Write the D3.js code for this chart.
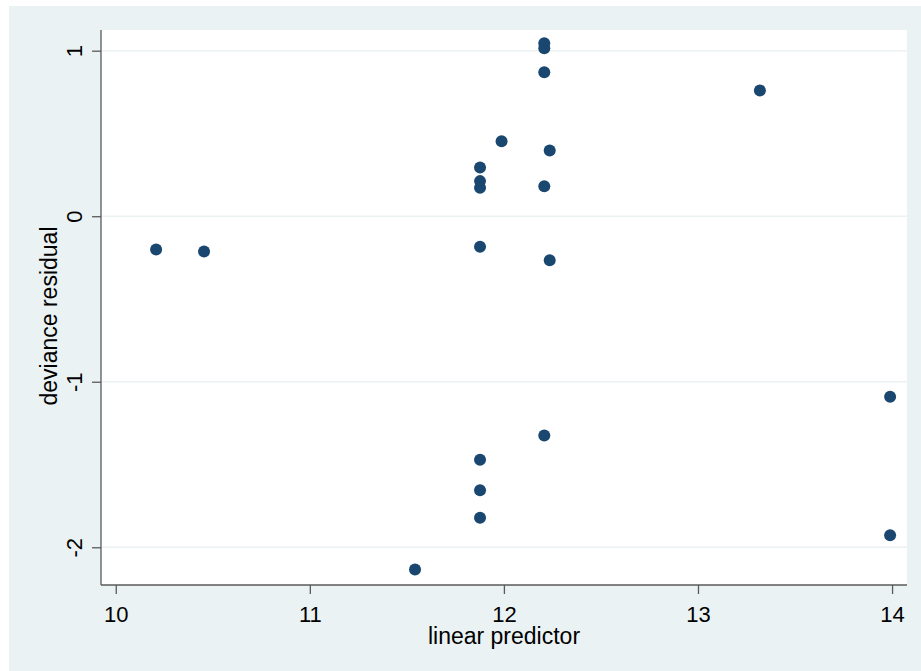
<!DOCTYPE html>
<html>
<head>
<meta charset="utf-8">
<script src="https://cdn.jsdelivr.net/npm/d3@7"></script>
<style>
  html, body { margin: 0; padding: 0; background: #ffffff; }
  svg { display: block; font-family: "Liberation Sans", Arial, sans-serif; }
</style>
</head>
<body>
<svg id="chart" width="921" height="671"></svg>
<script>
// Data
const linearPredictor = [10.208, 10.455, 11.542, 11.877, 11.877, 11.877, 11.877, 11.877, 11.877, 11.877,
                         11.988, 12.208, 12.208, 12.208, 12.208, 12.236, 12.236, 12.208, 13.319, 13.990, 13.990];
const devianceResidual = [-0.201, -0.213, -2.135, 0.294, 0.212, 0.172, -0.185, -1.472, -1.656, -1.822,
                          0.453, 1.045, 1.015, 0.870, 0.181, 0.397, -0.266, -1.325, 0.760, -1.091, -1.927];
const xTicks = [10, 11, 12, 13, 14];
const yTicks = [-2, -1, 0, 1];
const xTitle = "linear predictor";
const yTitle = "deviance residual";

const svg = d3.select("#chart");
const W = 921, H = 671;
const plot = { left: 101, right: 907, top: 30, bottom: 585 };

// outer background
svg.append("rect").attr("x", 9).attr("y", 6).attr("width", W - 9).attr("height", H - 6)
  .attr("fill", "#eaf2f3");

const x = d3.scaleLinear().domain([9.924, 14.077]).range([plot.left, plot.right]);
const y = d3.scaleLinear().domain([-2.228, 1.125]).range([plot.bottom, plot.top]);

// plot region
svg.append("rect").attr("x", plot.left).attr("y", plot.top)
  .attr("width", plot.right - plot.left).attr("height", plot.bottom - plot.top)
  .attr("fill", "#ffffff");

// gridlines
svg.append("g").selectAll("line").data(yTicks).join("line")
  .attr("x1", plot.left).attr("x2", plot.right)
  .attr("y1", d => y(d)).attr("y2", d => y(d))
  .attr("stroke", "#eaf2f3").attr("stroke-width", 1.5);

const fmt = d => String(d);

// x axis
const xAxis = d3.axisBottom(x).tickValues(xTicks).tickFormat(fmt)
  .tickSize(9).tickSizeOuter(0).tickPadding(12);
const gx = svg.append("g").attr("transform", `translate(0,${plot.bottom})`).call(xAxis);
gx.select(".domain").attr("stroke", "#5a5a5a").attr("stroke-width", 1.3)
  .attr("d", `M${plot.left},0H${plot.right}`);
gx.selectAll(".tick line").attr("stroke", "#5a5a5a").attr("stroke-width", 1.3);
gx.selectAll(".tick text").attr("font-size", 22).attr("fill", "#000")
  .attr("font-family", "Liberation Sans, Arial, sans-serif");

// y axis
const yAxis = d3.axisLeft(y).tickValues(yTicks).tickFormat(fmt)
  .tickSize(9).tickSizeOuter(0);
const gy = svg.append("g").attr("transform", `translate(${plot.left},0)`).call(yAxis);
gy.select(".domain").attr("stroke", "#5a5a5a").attr("stroke-width", 1.3)
  .attr("d", `M0,${plot.top}V${plot.bottom}`);
gy.selectAll(".tick line").attr("stroke", "#5a5a5a").attr("stroke-width", 1.3);
gy.selectAll(".tick text")
  .attr("x", null).attr("dy", null)
  .attr("text-anchor", "middle")
  .attr("transform", "translate(-19,0) rotate(-90)")
  .attr("font-size", 22).attr("fill", "#000")
  .attr("font-family", "Liberation Sans, Arial, sans-serif");

// axis titles
svg.append("text").attr("x", 504).attr("y", 644)
  .attr("text-anchor", "middle").attr("font-size", 23).attr("fill", "#000")
  .text(xTitle);
svg.append("text").attr("transform", "translate(57,316) rotate(-90)")
  .attr("text-anchor", "middle").attr("font-size", 23).attr("fill", "#000")
  .text(yTitle);

// points
svg.append("g").selectAll("circle").data(linearPredictor.map((v, i) => [v, devianceResidual[i]]))
  .join("circle")
  .attr("cx", d => x(d[0])).attr("cy", d => y(d[1])).attr("r", 6)
  .attr("fill", "#1a476f");
</script>
</body>
</html>
